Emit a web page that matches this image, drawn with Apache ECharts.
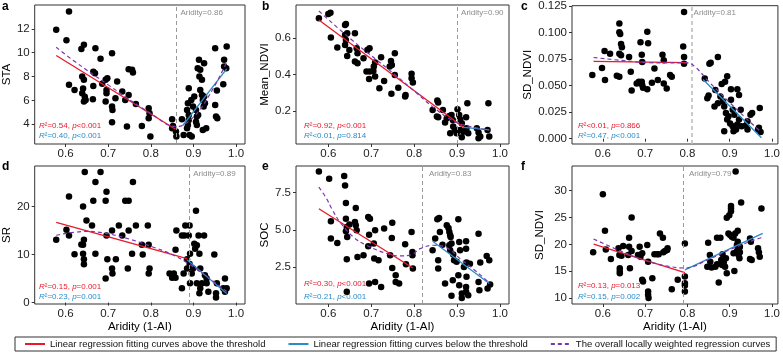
<!DOCTYPE html>
<html>
<head>
<meta charset="utf-8">
<script src="https://cdn.jsdelivr.net/npm/echarts@6.0.0/dist/echarts.min.js"></script>
<style>
  html, body { margin: 0; padding: 0; background: #fff; }
  #chart { width: 783px; height: 353px; }
</style>
</head>
<body>
<div id="chart"></div>
<script>
// ---- data ----
const xTicks = [0.6, 0.7, 0.8, 0.9, 1.0];

const staPoints = [[0.578,11.92],[0.608,13.45],[0.602,11.05],[0.608,7.3],[0.621,6.88],[0.637,10.3],[0.643,10.66],[0.639,8.0],[0.643,7.72],[0.641,7.0],[0.639,6.6],[0.645,6.3],[0.647,6.04],[0.643,5.9],[0.664,6.1],[0.670,10.38],[0.682,9.5],[0.665,8.4],[0.669,8.28],[0.665,7.2],[0.686,7.4],[0.694,7.72],[0.698,7.86],[0.696,6.88],[0.696,6.6],[0.694,5.9],[0.709,9.96],[0.721,7.58],[0.709,5.48],[0.710,5.2],[0.709,4.17],[0.717,6.18],[0.733,6.74],[0.744,3.8],[0.748,8.62],[0.756,8.56],[0.758,8.34],[0.748,6.46],[0.740,6.04],[0.765,5.7],[0.779,3.86],[0.795,5.34],[0.797,4.92],[0.795,4.5],[0.799,2.96],[0.850,4.42],[0.852,3.86],[0.850,3.67],[0.859,3.38],[0.860,2.96],[0.873,4.42],[0.877,3.10],[0.889,7.02],[0.887,5.76],[0.885,5.2],[0.889,4.78],[0.889,4.36],[0.887,3.94],[0.885,3.67],[0.891,3.1],[0.896,2.96],[0.895,6.04],[0.899,5.48],[0.902,6.32],[0.906,5.2],[0.908,4.64],[0.913,9.4],[0.910,8.7],[0.916,8.56],[0.914,8.0],[0.920,7.72],[0.916,6.88],[0.920,6.46],[0.922,6.04],[0.924,5.48],[0.925,9.12],[0.925,6.32],[0.927,5.76],[0.922,3.52],[0.930,3.66],[0.908,3.94],[0.906,4.2],[0.911,4.78],[0.951,10.38],[0.951,5.62],[0.955,6.83],[0.953,4.64],[0.956,4.5],[0.978,10.52],[0.972,9.4],[0.972,8.84],[0.977,8.7],[0.970,7.35]];
const staRed = [[0.578,9.76],[0.858,3.58]];
const staBlue = [[0.875,3.89],[0.978,8.64]];
const staLoess = [[0.578,10.45],[0.62,9.3],[0.7,7.3],[0.8,4.9],[0.86,3.8],[0.9,4.6],[0.94,6.6],[0.978,9.2]];

const ndviPoints = [[0.578,0.710],[0.600,0.734],[0.605,0.741],[0.606,0.604],[0.621,0.549],[0.639,0.673],[0.641,0.679],[0.639,0.618],[0.644,0.628],[0.641,0.591],[0.639,0.563],[0.644,0.503],[0.649,0.536],[0.662,0.628],[0.666,0.545],[0.668,0.517],[0.662,0.472],[0.668,0.462],[0.682,0.490],[0.691,0.536],[0.696,0.545],[0.689,0.417],[0.697,0.417],[0.695,0.376],[0.709,0.466],[0.706,0.444],[0.709,0.389],[0.705,0.420],[0.723,0.495],[0.719,0.325],[0.730,0.365],[0.743,0.444],[0.746,0.475],[0.748,0.453],[0.747,0.294],[0.755,0.517],[0.755,0.398],[0.763,0.328],[0.779,0.279],[0.780,0.288],[0.794,0.404],[0.794,0.380],[0.797,0.356],[0.843,0.205],[0.854,0.257],[0.856,0.246],[0.853,0.169],[0.856,0.165],[0.867,0.205],[0.872,0.136],[0.876,0.160],[0.882,0.172],[0.887,0.178],[0.890,0.150],[0.891,0.114],[0.895,0.095],[0.899,0.077],[0.901,0.209],[0.905,0.178],[0.907,0.154],[0.911,0.132],[0.911,0.055],[0.915,0.086],[0.907,0.095],[0.921,0.165],[0.922,0.105],[0.924,0.242],[0.926,0.077],[0.946,0.105],[0.950,0.081],[0.954,0.059],[0.950,0.050],[0.973,0.242],[0.971,0.095],[0.975,0.059],[0.884,0.077]];
const ndviRed = [[0.578,0.701],[0.915,0.110]];
const ndviBlue = [[0.915,0.110],[0.975,0.096]];
const ndviLoess = [[0.578,0.75],[0.65,0.6],[0.75,0.41],[0.8,0.31],[0.85,0.21],[0.9,0.135],[0.95,0.105],[0.975,0.095]];

const sdPoints = [[0.575,0.0599],[0.598,0.0667],[0.604,0.0825],[0.605,0.0552],[0.617,0.0800],[0.633,0.0592],[0.639,0.0583],[0.639,0.1086],[0.641,0.0986],[0.639,0.1002],[0.643,0.0893],[0.645,0.0862],[0.639,0.0800],[0.643,0.0785],[0.662,0.0769],[0.668,0.0453],[0.666,0.0630],[0.680,0.0521],[0.685,0.0537],[0.689,0.0909],[0.692,0.0791],[0.693,0.0723],[0.692,0.0537],[0.693,0.0506],[0.695,0.0481],[0.705,0.1008],[0.707,0.0899],[0.705,0.0465],[0.716,0.0527],[0.722,0.0661],[0.730,0.0552],[0.741,0.0791],[0.744,0.0738],[0.744,0.0521],[0.751,0.0474],[0.759,0.0599],[0.763,0.0583],[0.790,0.0868],[0.792,0.0769],[0.792,0.0707],[0.792,0.1194],[0.841,0.0568],[0.847,0.0381],[0.850,0.0406],[0.852,0.0707],[0.855,0.0716],[0.872,0.0769],[0.866,0.0459],[0.872,0.0335],[0.864,0.0304],[0.881,0.0515],[0.894,0.0589],[0.889,0.0537],[0.903,0.0465],[0.918,0.0465],[0.922,0.0412],[0.878,0.0397],[0.884,0.0350],[0.887,0.0304],[0.891,0.0242],[0.897,0.0211],[0.894,0.0180],[0.903,0.0366],[0.907,0.0273],[0.911,0.0226],[0.901,0.0143],[0.907,0.0118],[0.915,0.0087],[0.918,0.0133],[0.922,0.0180],[0.926,0.0273],[0.928,0.0118],[0.938,0.0124],[0.942,0.0164],[0.949,0.0226],[0.953,0.0242],[0.967,0.0087],[0.971,0.0288],[0.969,0.0102],[0.973,0.0062],[0.887,0.0071],[0.909,0.0071],[0.942,0.0087]];
const sdRed = [[0.578,0.0729],[0.800,0.0717]];
const sdBlue = [[0.837,0.0558],[0.975,0.0009]];
const sdLoess = [[0.578,0.0765],[0.65,0.0735],[0.72,0.0715],[0.8,0.0715],[0.82,0.067],[0.85,0.054],[0.9,0.034],[0.95,0.015],[0.975,0.006]];

const srPoints = [[0.578,13.06],[0.608,22.06],[0.602,15.12],[0.608,13.95],[0.621,10.03],[0.645,27.15],[0.641,20.0],[0.649,17.04],[0.637,12.1],[0.641,12.03],[0.643,13.06],[0.641,10.17],[0.643,9.0],[0.643,7.97],[0.670,25.09],[0.682,27.15],[0.665,21.17],[0.662,16.01],[0.670,10.17],[0.694,21.17],[0.696,23.02],[0.696,13.95],[0.698,9.0],[0.694,5.02],[0.709,14.98],[0.709,7.08],[0.710,6.05],[0.718,9.0],[0.725,16.01],[0.733,13.95],[0.740,21.17],[0.748,21.17],[0.748,14.98],[0.746,7.08],[0.758,25.09],[0.756,10.17],[0.765,16.01],[0.779,12.03],[0.781,9.97],[0.793,16.01],[0.795,12.03],[0.797,7.08],[0.795,6.05],[0.844,6.05],[0.850,5.15],[0.854,6.05],[0.858,11.0],[0.860,14.98],[0.858,5.15],[0.873,2.96],[0.873,13.95],[0.879,13.95],[0.881,16.01],[0.877,6.05],[0.885,7.08],[0.885,9.0],[0.889,13.95],[0.891,16.01],[0.892,10.17],[0.891,8.04],[0.892,4.01],[0.896,6.05],[0.899,7.08],[0.902,12.24],[0.904,11.2],[0.906,19.1],[0.908,11.9],[0.908,4.01],[0.912,13.95],[0.914,10.17],[0.916,7.08],[0.920,4.01],[0.916,2.96],[0.925,13.95],[0.927,5.7],[0.931,5.02],[0.931,4.01],[0.935,2.27],[0.914,1.92],[0.949,9.97],[0.955,4.01],[0.953,1.92],[0.953,1.03],[0.970,2.96],[0.974,5.02],[0.978,2.96],[0.974,2.27]];
const srRed = [[0.578,16.7],[0.885,9.14]];
const srBlue = [[0.885,8.9],[0.978,1.86]];
const srLoess = [[0.578,14.0],[0.65,14.8],[0.7,14.3],[0.75,13.2],[0.8,11.7],[0.85,10.0],[0.885,8.3],[0.93,5.5],[0.978,2.3]];

const socPoints = [[0.578,8.93],[0.602,8.44],[0.606,5.57],[0.606,4.41],[0.621,4.11],[0.637,8.62],[0.639,7.99],[0.641,6.80],[0.641,5.75],[0.644,4.52],[0.643,5.19],[0.641,4.90],[0.649,5.35],[0.643,3.02],[0.643,0.82],[0.662,5.53],[0.664,5.30],[0.666,4.97],[0.664,6.47],[0.668,3.17],[0.682,3.28],[0.693,5.86],[0.697,5.75],[0.695,4.67],[0.693,3.89],[0.695,1.38],[0.709,4.97],[0.706,4.07],[0.707,3.06],[0.709,1.49],[0.717,2.95],[0.723,1.15],[0.730,5.08],[0.744,3.28],[0.748,4.45],[0.749,5.48],[0.749,2.43],[0.757,1.94],[0.757,1.49],[0.765,1.38],[0.779,4.02],[0.781,2.68],[0.794,4.85],[0.796,3.51],[0.796,3.28],[0.797,2.39],[0.843,3.62],[0.849,4.41],[0.854,5.71],[0.858,5.80],[0.856,2.95],[0.856,2.39],[0.860,4.85],[0.866,4.00],[0.872,1.38],[0.876,5.30],[0.880,5.12],[0.882,4.85],[0.884,4.63],[0.885,4.52],[0.887,4.07],[0.882,3.96],[0.884,3.62],[0.887,0.55],[0.890,1.60],[0.891,3.33],[0.893,2.95],[0.899,2.84],[0.903,5.71],[0.905,4.18],[0.907,3.62],[0.903,1.94],[0.905,1.27],[0.911,0.71],[0.911,0.41],[0.916,2.50],[0.921,4.23],[0.921,3.73],[0.922,2.79],[0.922,1.83],[0.921,1.15],[0.921,0.82],[0.926,0.59],[0.930,2.72],[0.950,4.74],[0.954,2.79],[0.950,1.49],[0.952,0.93],[0.969,3.24],[0.975,2.95],[0.977,1.31],[0.971,1.04]];
const socRed = [[0.578,6.42],[0.797,2.43]];
const socBlue = [[0.843,4.23],[0.975,1.38]];
const socLoess = [[0.578,7.88],[0.596,7.10],[0.608,6.42],[0.627,5.53],[0.658,4.52],[0.689,3.96],[0.736,3.40],[0.767,3.24],[0.794,3.33],[0.814,3.73],[0.845,3.96],[0.876,3.78],[0.907,3.06],[0.946,2.16],[0.977,1.38]];

const sd2Points = [[0.577,18.52],[0.600,29.32],[0.605,22.53],[0.607,19.07],[0.619,17.28],[0.637,19.26],[0.639,18.02],[0.640,15.56],[0.640,15.06],[0.640,14.63],[0.648,19.69],[0.644,17.9],[0.660,18.02],[0.662,19.57],[0.662,21.23],[0.668,25.0],[0.668,18.77],[0.664,15.56],[0.683,18.02],[0.687,19.57],[0.689,17.72],[0.693,18.33],[0.695,13.09],[0.693,13.4],[0.705,19.88],[0.707,16.79],[0.707,10.62],[0.708,10.0],[0.707,11.23],[0.717,13.7],[0.722,18.15],[0.728,18.15],[0.732,18.15],[0.735,22.04],[0.742,21.23],[0.743,18.52],[0.747,18.77],[0.752,18.95],[0.753,19.26],[0.763,11.67],[0.777,13.4],[0.794,20.19],[0.794,14.01],[0.794,12.78],[0.794,12.35],[0.794,11.23],[0.849,20.31],[0.853,18.02],[0.854,16.79],[0.857,15.68],[0.847,15.86],[0.866,15.86],[0.870,16.3],[0.870,21.23],[0.874,12.9],[0.878,21.23],[0.880,17.1],[0.882,16.17],[0.883,18.15],[0.886,16.67],[0.889,15.86],[0.891,17.41],[0.893,24.94],[0.893,14.63],[0.897,22.04],[0.899,25.43],[0.901,21.73],[0.903,26.67],[0.903,27.16],[0.903,26.17],[0.905,21.42],[0.909,21.23],[0.909,18.33],[0.913,22.04],[0.911,15.06],[0.914,33.58],[0.917,19.88],[0.917,18.77],[0.919,22.53],[0.919,20.49],[0.921,18.02],[0.922,19.26],[0.924,19.57],[0.924,18.52],[0.927,27.78],[0.923,17.41],[0.948,21.11],[0.950,20.49],[0.948,17.28],[0.952,17.1],[0.967,19.26],[0.969,18.52],[0.971,17.72],[0.975,26.67]];
const sd2Red = [[0.578,20.06],[0.794,14.75]];
const sd2Blue = [[0.794,15.25],[0.978,22.04]];
const sd2Loess = [[0.578,21.0],[0.65,18.5],[0.7,17.0],[0.75,16.0],[0.794,15.6],[0.85,17.2],[0.9,19.0],[0.95,20.6],[0.978,21.3]];

const yNames = ['STA', 'Mean_NDVI', 'SD_NDVI', 'SR', 'SOC', 'SD_NDVI'];
const letters = ['a', 'b', 'c', 'd', 'e', 'f'];
const thresholds = [0.86, 0.90, 0.805, 0.89, 0.825, 0.794];
const thresholdText = ['Aridity=0.86', 'Aridity=0.90', 'Aridity=0.81', 'Aridity=0.89', 'Aridity=0.83', 'Aridity=0.79'];
const yTicks = [[4,6,8,10,12],[0.2,0.4,0.6],[0,0.025,0.05,0.075,0.1,0.125],[0,10,20],[2.5,5,7.5],[10,15,20,25,30]];
const yDecimals = [0, 1, 3, 0, 1, 0];
const yRanges = [[2.34,14.0],[0.018,0.783],[-0.005,0.1253],[-0.3,28.4],[0.0,9.3],[8.9,34.6]];
const redStats = ['{i|R}²=0.54, {i|p}<0.001','{i|R}²=0.92, {i|p}<0.001','{i|R}²<0.01, {i|p}=0.866','{i|R}²=0.15, {i|p}=0.001','{i|R}²=0.30, {i|p}<0.001','{i|R}²=0.13, {i|p}=0.013'];
const blueStats = ['{i|R}²=0.40, {i|p}<0.001','{i|R}²<0.01, {i|p}=0.814','{i|R}²=0.47, {i|p}<0.001','{i|R}²=0.23, {i|p}=0.001','{i|R}²=0.21, {i|p}<0.001','{i|R}²=0.15, {i|p}=0.002'];

const panelPoints = [staPoints, ndviPoints, sdPoints, srPoints, socPoints, sd2Points];
const panelRed = [staRed, ndviRed, sdRed, srRed, socRed, sd2Red];
const panelBlue = [staBlue, ndviBlue, sdBlue, srBlue, socBlue, sd2Blue];
const panelLoess = [staLoess, ndviLoess, sdLoess, srLoess, socLoess, sd2Loess];

const RED_NAME = 'Linear regression fitting curves above the threshold';
const BLUE_NAME = 'Linear regression fitting curves below the threshold';
const LOESS_NAME = 'The overall locally weighted regression curves';

// ---- layout ----
const FONT = 'Liberation Sans, Arial, sans-serif';
const RED = '#e8192c', BLUE = '#2b8cc8', PURPLE = '#7a35b0';
const grids = [
  { left: 34, top: 5, width: 211, height: 139 },
  { left: 296, top: 5, width: 213, height: 139 },
  { left: 572, top: 5, width: 209, height: 139 },
  { left: 34, top: 166, width: 211, height: 138 },
  { left: 296, top: 166, width: 213, height: 138 },
  { left: 572, top: 166, width: 209, height: 138 }
];
const letterPos = [[2, 1], [262, 1], [521, 1], [2, 161], [262, 161], [521, 161]];
const xRanges = [[0.5275,1.021],[0.5247,1.021],[0.527,1.014],[0.5275,1.021],[0.5247,1.021],[0.527,1.014]];
const yNameGaps = [17, 24, 37, 19, 23, 26];
const statOffsets = [[5, 18, 8], [8, 18, 8], [6, 18, 8], [5, 17, 7], [8, 20, 7], [6, 18, 7]];

const chart = echarts.init(document.getElementById('chart'), null, { renderer: 'canvas' });

const xAxis = [], yAxis = [], series = [];
grids.forEach((g, i) => {
  xAxis.push({
    type: 'value', gridIndex: i, min: xRanges[i][0], max: xRanges[i][1],
    name: i >= 3 ? 'Aridity (1-AI)' : '', nameLocation: 'middle', nameGap: 17,
    nameTextStyle: { fontFamily: FONT, fontSize: 11.5, color: '#000' },
    axisLine: { show: false },
    axisTick: { show: true, length: 3, customValues: xTicks, lineStyle: { color: '#333' } },
    axisLabel: { customValues: xTicks, margin: 4, fontFamily: FONT, fontSize: 11.5, color: '#222', formatter: v => v.toFixed(1) },
    splitLine: { show: false }
  });
  yAxis.push({
    type: 'value', gridIndex: i, min: yRanges[i][0], max: yRanges[i][1],
    name: yNames[i], nameLocation: 'middle', nameGap: yNameGaps[i], nameRotate: 90,
    nameTextStyle: { fontFamily: FONT, fontSize: 11.5, color: '#000' },
    axisLine: { show: false },
    axisTick: { show: true, length: 3, customValues: yTicks[i], lineStyle: { color: '#333' } },
    axisLabel: { customValues: yTicks[i], margin: 5, fontFamily: FONT, fontSize: 11.5, color: '#222', formatter: v => v.toFixed(yDecimals[i]) },
    splitLine: { show: false }
  });
  series.push({
    type: 'scatter', xAxisIndex: i, yAxisIndex: i, data: panelPoints[i],
    symbolSize: 6.5, itemStyle: { color: '#000', opacity: 1 }, z: 3,
    markLine: {
      silent: true, symbol: 'none', label: { show: false },
      lineStyle: { color: i === 2 ? '#bdbdbd' : '#9a9a9a', type: [4, 3], width: i === 2 ? 1.6 : 1 },
      data: [{ xAxis: thresholds[i] }]
    }
  });
  series.push({ type: 'line', name: RED_NAME, xAxisIndex: i, yAxisIndex: i, data: panelRed[i], symbol: 'none', lineStyle: { color: RED, width: 1.3 }, itemStyle: { color: RED }, z: 4 });
  series.push({ type: 'line', name: BLUE_NAME, xAxisIndex: i, yAxisIndex: i, data: panelBlue[i], symbol: 'none', lineStyle: { color: BLUE, width: 1.3 }, itemStyle: { color: BLUE }, z: 4 });
  series.push({ type: 'line', name: LOESS_NAME, xAxisIndex: i, yAxisIndex: i, data: panelLoess[i], symbol: 'none', smooth: 0.4, lineStyle: { color: PURPLE, width: 1.2, type: [4, 3] }, itemStyle: { color: PURPLE }, z: 5 });
});

chart.setOption({
  animation: false,
  textStyle: { fontFamily: FONT },
  grid: grids.map(g => Object.assign({ show: true, borderColor: '#333', borderWidth: 1, backgroundColor: '#fff', containLabel: false }, g)),
  xAxis, yAxis, series,
  legend: {
    data: [RED_NAME, BLUE_NAME, LOESS_NAME],
    left: 15, top: 337, itemWidth: 20, itemHeight: 10, itemGap: 22,
    padding: [2, 6, 2, 9], borderColor: '#333', borderWidth: 1,
    itemStyle: { color: 'rgba(0,0,0,0)', borderColor: 'rgba(0,0,0,0)', borderWidth: 0, opacity: 0 },
    textStyle: { fontFamily: FONT, fontSize: 9.5, color: '#111' },
    selectedMode: false
  }
});

// text annotations: letters, stats, threshold labels
const graphic = [];
grids.forEach((g, i) => {
  graphic.push({ type: 'text', x: letterPos[i][0], y: letterPos[i][1], style: { text: letters[i], font: 'bold 12px ' + FONT, fill: '#000' } });
  const bottom = g.top + g.height;
  const so = statOffsets[i];
  graphic.push({ type: 'text', x: g.left + so[0], y: bottom - so[1], style: { text: redStats[i], fill: RED, font: '8px ' + FONT, verticalAlign: 'middle', rich: { i: { fontStyle: 'italic', fill: RED, fontSize: 8, fontFamily: FONT } } } });
  graphic.push({ type: 'text', x: g.left + so[0], y: bottom - so[2], style: { text: blueStats[i], fill: BLUE, font: '8px ' + FONT, verticalAlign: 'middle', rich: { i: { fontStyle: 'italic', fill: BLUE, fontSize: 8, fontFamily: FONT } } } });
  const px = chart.convertToPixel({ gridIndex: i }, [thresholds[i], yRanges[i][1]]);
  graphic.push({ type: 'text', x: px[0] + 4, y: g.top + 8, style: { text: thresholdText[i], fill: '#8c8c8c', font: '8px ' + FONT, verticalAlign: 'middle' } });
});
chart.setOption({ graphic });
</script>
</body>
</html>
